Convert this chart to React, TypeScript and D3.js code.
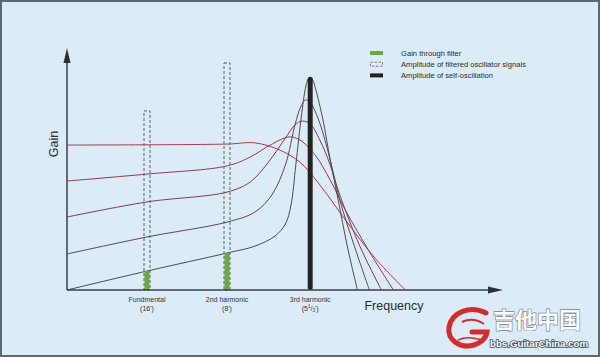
import React from "react";
import * as d3 from "d3";

const W = 600;
const H = 357;

// ---- data (frequency in harmonic units, gain in %) ----
const harmonicLabels = ["Fundmental", "2nd harmonic", "3rd harmonic"];
const harmonicFeet = ["(16')", "(8')", ""];
const harmonicFreq = [1, 2, 3.04];
const gainThroughFilter = [7.9, 15.4];
const oscillatorAmplitude = [74.6, 94.6];
const selfOscillation = 88.8;

const curveE: [number, number][] = [
  [0, 0], [1, 7.9], [2, 15.4], [2.35, 18.3], [2.6, 22.5], [2.73, 27.5], [2.8, 35.4],
  [2.86, 52.1], [2.93, 72.5], [2.98, 84], [3.01, 87.6], [3.04, 88.8], [3.07, 87.6],
  [3.11, 83.5], [3.2, 70.8], [3.29, 54.2], [3.39, 37.5], [3.5, 18.8], [3.63, 0],
];
const curveD: [number, number][] = [
  [0, 15], [1, 22.1], [2, 28.3], [2.35, 32.5], [2.56, 39.6], [2.73, 52.1], [2.85, 68.8],
  [2.92, 76.2], [2.98, 79.2], [3.04, 78.2], [3.1, 74.6], [3.18, 67.5], [3.29, 54.2],
  [3.41, 37.5], [3.6, 17.5], [3.78, 0],
];
const curveC: [number, number][] = [
  [0, 30.4], [1, 36.7], [2, 40.8], [2.29, 45], [2.51, 52.9], [2.73, 63.3], [2.85, 68.8],
  [2.94, 70.4], [3.04, 69.2], [3.16, 62.5], [3.29, 52.1], [3.41, 39.6], [3.66, 18.3],
  [3.93, 0],
];
const curveB: [number, number][] = [
  [0, 45.4], [1, 48.3], [2, 51.7], [2.29, 55.4], [2.54, 60.4], [2.78, 63.8], [2.91, 62.5],
  [3.1, 56.3], [3.29, 45.8], [3.48, 33.3], [3.79, 15.4], [4.08, 0],
];
const curveA: [number, number][] = [
  [0, 60.4], [2, 60.8], [2.35, 61.3], [2.66, 58.3], [2.91, 53.3], [3.16, 43.8],
  [3.48, 29.2], [3.85, 13.3], [4.23, 0],
];
const responseCurves = [curveA, curveB, curveC, curveD, curveE];
const curveColors = ["#b0384b", "#94394f", "#7a3f50", "#634750", "#4b4b4d"];

const legendItems = [
  "Gain through filter",
  "Amplitude of filtered oscillator signals",
  "Amplitude of self-oscillation",
];

export default function App() {
  const x = d3.scaleLinear().domain([0, 5.45]).range([67, 503]);
  const y = d3.scaleLinear().domain([0, 100]).range([290, 50]);
  const line = d3
    .line<[number, number]>()
    .x((d) => x(d[0]))
    .y((d) => y(d[1]))
    .curve(d3.curveCatmullRom.alpha(0.5));

  const x0 = x.range()[0];
  const x1 = x.range()[1];
  const y0 = y.range()[0];
  const y1 = y.range()[1];
  const font = "'Liberation Sans', Arial, Helvetica, sans-serif";

  return (
    <svg width={W} height={H} style={{ position: "absolute", left: 0, top: 0 }} fontFamily={font}>
      <rect x={1} y={1} width={W - 2} height={H - 2} fill="#dbebf8" stroke="#5c6870" strokeWidth={2} />

      {/* response curves */}
      {responseCurves.map((c, i) => (
        <path key={i} d={line(c) || ""} fill="none" stroke={curveColors[i]} strokeWidth={1} />
      ))}

      {/* green gain bars */}
      {gainThroughFilter.map((g, i) => (
        <rect key={"g" + i} x={x(harmonicFreq[i]) - 2.5} y={y(g)} width={5} height={y(0) - y(g)} fill="#6aab3c" />
      ))}
      {/* dashed oscillator amplitudes */}
      {oscillatorAmplitude.map((g, i) => (
        <rect key={"d" + i} x={x(harmonicFreq[i]) - 3} y={y(g)} width={6} height={y(0) - y(g)}
          fill="none" stroke="#5a5f63" strokeWidth={1} strokeDasharray="3,2" />
      ))}
      {/* self-oscillation */}
      <rect x={x(harmonicFreq[2]) - 2.5} y={y(selfOscillation)} width={5} height={y(0) - y(selfOscillation)} rx={2} fill="#232323" />

      {/* axes */}
      <line x1={x0} y1={y0} x2={x0} y2={y1 + 8} stroke="#3a4147" strokeWidth={1.5} />
      <line x1={x0} y1={y0} x2={x1 - 8} y2={y0} stroke="#3a4147" strokeWidth={1.5} />
      <polygon points={`${x0},${y1 - 2} ${x0 - 3.5},${y1 + 13} ${x0 + 3.5},${y1 + 13}`} fill="#2a3035" />
      <polygon points={`${x1},${y0} ${x1 - 15},${y0 - 3.5} ${x1 - 15},${y0 + 3.5}`} fill="#2a3035" />

      <text x={0} y={0} transform={`translate(58,144) rotate(-90)`} textAnchor="middle" fontSize={12.5} fill="#2b2b2b">Gain</text>
      <text x={394} y={310} textAnchor="middle" fontSize={12.5} fill="#2b2b2b">Frequency</text>

      {harmonicLabels.map((l, i) => (
        <g key={"l" + i} fontSize={7} fill="#333">
          <text x={x(harmonicFreq[i])} y={302} textAnchor="middle">{l}</text>
          {i < 2 ? (
            <text x={x(harmonicFreq[i])} y={310.5} textAnchor="middle">{harmonicFeet[i]}</text>
          ) : (
            <text x={x(harmonicFreq[i])} y={310.5} textAnchor="middle">
              (5<tspan fontSize={4.5} dy={-2.5}>1</tspan><tspan dy={2.5}>/</tspan><tspan fontSize={4.5} dy={1.5}>3</tspan><tspan dy={-1.5}>')</tspan>
            </text>
          )}
        </g>
      ))}

      {/* legend */}
      {legendItems.map((t, i) => {
        const ly = 53 + i * 11.2;
        return (
          <g key={"lg" + i}>
            {i === 0 && <rect x={370} y={ly - 2} width={13} height={4} fill="#6aab3c" />}
            {i === 1 && <rect x={370.5} y={ly - 2} width={12} height={4} fill="none" stroke="#666" strokeWidth={0.8} strokeDasharray="2.5,1.5" />}
            {i === 2 && <rect x={370} y={ly - 2} width={13} height={4} fill="#232323" />}
            <text x={401} y={ly + 2.6} fontSize={7.6} fill="#2b2b2b">{t}</text>
          </g>
        );
      })}

      {/* watermark */}
      <g>
        <path d="M486,313 C470,305 452,312 449,327 C447,340 460,349 474,345 C481,343 486,338 487,332 L472,332"
          fill="none" stroke="#d82a2a" strokeWidth={5} strokeLinecap="round" />
        <path d="M462,322 C470,318 478,320 484,324" fill="none" stroke="#d82a2a" strokeWidth={2} />
        <path d="M458,340 C466,336 474,338 482,340" fill="none" stroke="#d82a2a" strokeWidth={1.5} />
        <text x={537} y={328} textAnchor="middle" fontSize={22} fontWeight="bold"
          fontFamily="'Noto Sans CJK SC', sans-serif" fill="#ffffff" stroke="#7d8388" strokeWidth={1.3}
          paintOrder="stroke">吉他中国</text>
        <text x={490} y={347} fontSize={9} fontWeight="bold" textLength={98} lengthAdjust="spacingAndGlyphs"
          fill="#ffffff" stroke="#4b5358" strokeWidth={1.6} paintOrder="stroke">bbs.GuitarChina.com</text>
      </g>
    </svg>
  );
}
